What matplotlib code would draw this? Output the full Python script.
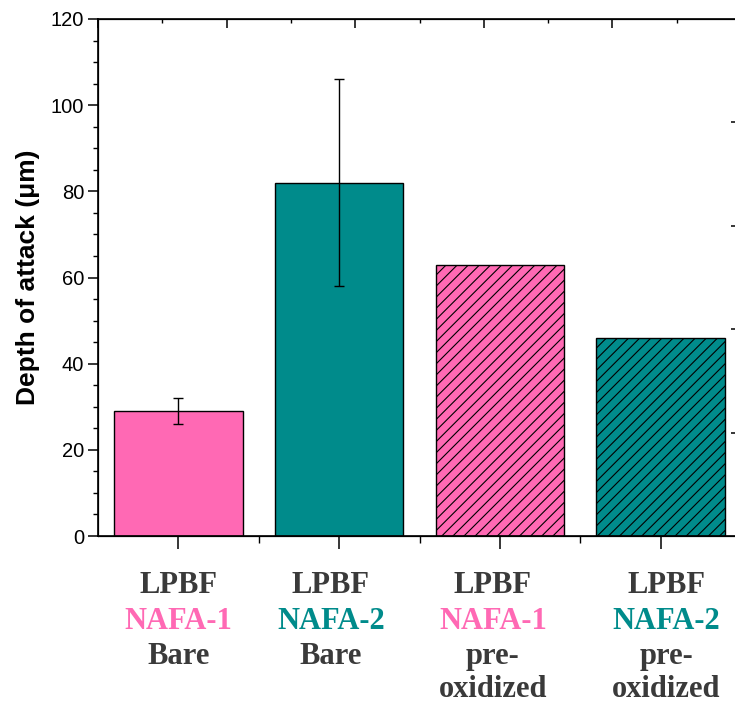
import numpy as np
import matplotlib
matplotlib.use("Agg")
import matplotlib.pyplot as plt
from matplotlib.ticker import MultipleLocator

# dados
profundidade = [29, 82, 63, 46]
erro = [3, 24, 0, 0]
linha1 = ["LPBF", "LPBF", "LPBF", "LPBF"]
linha2 = ["NAFA-1", "NAFA-2", "NAFA-1", "NAFA-2"]
linha3 = ["Bare", "Bare", "pre-", "pre-"]
linha4 = ["", "", "oxidized", "oxidized"]

rosa = "#FF69B4"
verde = "#008B8B"
cinza = "#3a3a3a"
cores = [rosa, verde, rosa, verde]
hachuras = ["", "", "///", "///"]

plt.rcParams["hatch.linewidth"] = 0.8
plt.rcParams["font.family"] = ["Liberation Sans", "DejaVu Sans"]

fig = plt.figure(figsize=(7.35, 7.04), dpi=100)
ax = fig.add_axes([98 / 735, 168 / 704, 643 / 735, 517 / 704])

x = np.arange(len(profundidade))
barras = ax.bar(x, profundidade, width=0.8, color=cores, edgecolor="black",
                linewidth=1.0, hatch=hachuras, zorder=2)
for i in range(len(x)):
    if erro[i] > 0:
        ax.errorbar(x[i], profundidade[i], yerr=erro[i], fmt="none",
                    ecolor="black", elinewidth=1.0, capsize=3.6,
                    capthick=1.0, zorder=3)

ax.set_xlim(-0.5, 3.5)
ax.set_ylim(0, 120)
ax.yaxis.set_major_locator(MultipleLocator(20))
ax.yaxis.set_minor_locator(MultipleLocator(5))
ax.set_xticks(x)
ax.set_xticks(x[:-1] + 0.5, minor=True)
ax.set_xticklabels([])
ax.tick_params(axis="y", which="major", direction="out", length=7, width=1.1,
               labelsize=14.5, pad=3, right=False)
ax.tick_params(axis="y", which="minor", direction="out", length=3.5, width=1.0,
               right=False)
ax.tick_params(axis="x", which="major", direction="out", length=9, width=1.1,
               top=False)
ax.tick_params(axis="x", which="minor", direction="out", length=5, width=1.0,
               top=False)
for s in ax.spines.values():
    s.set_linewidth(1.2)

ax.set_ylabel("Depth of attack (\u03bcm)", fontsize=19, fontweight="bold",
              labelpad=8)

# eixos secundários (cortados à direita)
ax_dir = ax.twinx()
ax_dir.set_ylim(0, 5)
ax_dir.set_yticks([1, 2, 3, 4])
ax_dir.set_yticklabels([])
ax_dir.tick_params(axis="y", direction="in", length=7, width=1.1)

ax_top = ax.twiny()
ax_top.set_xlim(0, 5)
ax_top.xaxis.set_major_locator(MultipleLocator(1))
ax_top.xaxis.set_minor_locator(MultipleLocator(0.5))
ax_top.set_xticklabels([])
ax_top.tick_params(axis="x", which="major", direction="in", length=6.5, width=1.1)
ax_top.tick_params(axis="x", which="minor", direction="in", length=3, width=1.0)

# rótulos multicoloridos
desloc_x = [0, -6, -5, 4]
linhas = [linha1, linha2, linha3, linha4]
desloc_y = [-41, -67, -92, -116]
for i in range(len(x)):
    for j, txt in enumerate(linhas):
        if not txt[i]:
            continue
        cor = cores[i] if j == 1 else cinza
        ax.annotate(txt[i], xy=(x[i], 0), xycoords=("data", "axes fraction"),
                    xytext=(desloc_x[i], desloc_y[j]), textcoords="offset points",
                    ha="center", va="baseline", fontsize=22, fontweight="bold",
                    family="Liberation Serif", color=cor, annotation_clip=False)

fig.savefig("out.png", dpi=100)
